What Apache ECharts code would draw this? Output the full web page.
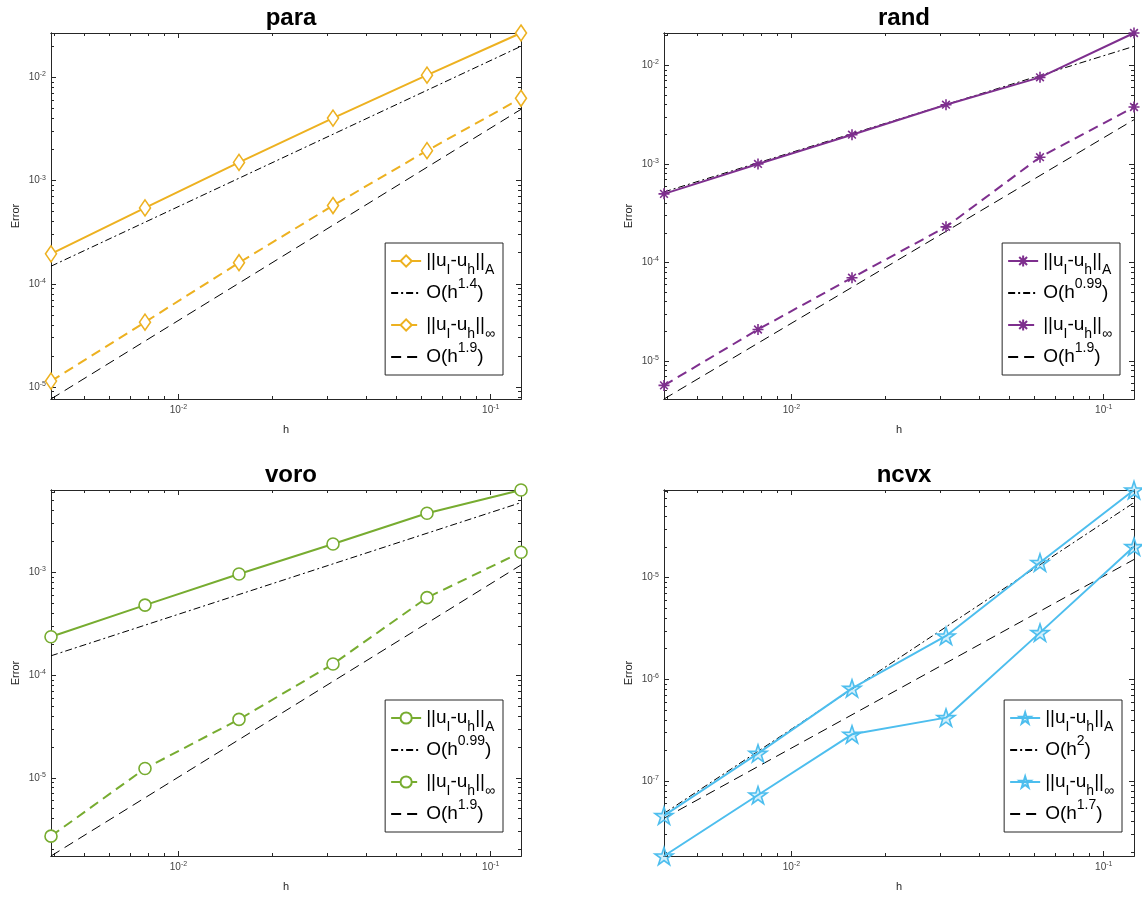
<!DOCTYPE html>
<html>
<head>
<meta charset="utf-8">
<script src="https://cdn.jsdelivr.net/npm/echarts@6/dist/echarts.min.js"></script>
<style>
  html, body { margin: 0; padding: 0; background: #fff; }
  #main { width: 1142px; height: 898px; }
</style>
</head>
<body>
<div id="main"></div>
<script>
// mesh sizes (h = 1/256 ... 1/8)
var hValues = [0.00390625, 0.0078125, 0.015625, 0.03125, 0.0625, 0.125];
var hEnds = [0.00390625, 0.125];

// para
var paraErrA   = [1.95e-4, 5.43e-4, 1.50e-3, 4.03e-3, 1.05e-2, 2.69e-2];
var paraErrInf = [1.14e-5, 4.25e-5, 1.60e-4, 5.73e-4, 1.95e-3, 6.27e-3];
var paraRefA   = [1.48e-4, 2.0e-2];
var paraRefInf = [7.65e-6, 4.9e-3];

// rand
var randErrA   = [4.97e-4, 1.0e-3, 1.98e-3, 3.99e-3, 7.56e-3, 2.13e-2];
var randErrInf = [5.66e-6, 2.09e-5, 7.0e-5, 2.30e-4, 1.17e-3, 3.78e-3];
var randRefA   = [5.2e-4, 1.56e-2];
var randRefInf = [4.12e-6, 2.81e-3];

// voro
var voroErrA   = [2.36e-4, 4.8e-4, 9.64e-4, 1.89e-3, 3.76e-3, 6.34e-3];
var voroErrInf = [2.70e-6, 1.23e-5, 3.70e-5, 1.28e-4, 5.67e-4, 1.57e-3];
var voroRefA   = [1.54e-4, 4.78e-3];
var voroRefInf = [1.73e-6, 1.18e-3];

// ncvx
var ncvxErrA   = [4.56e-8, 1.87e-7, 8.15e-7, 2.67e-6, 1.41e-5, 7.28e-5];
var ncvxErrInf = [1.83e-8, 7.28e-8, 2.88e-7, 4.2e-7, 2.88e-6, 2.02e-5];
var ncvxRefA   = [4.8e-8, 5.47e-5];
var ncvxRefInf = [4.3e-8, 1.51e-5];

var rateLabels = { para: ['1.4', '1.9'], rand: ['0.99', '1.9'], voro: ['0.99', '1.9'], ncvx: ['2', '1.7'] };

// marker shapes
var asterisk = 'path://M0,5L10,5M5,0L5,10M1.5,1.5L8.5,8.5M1.5,8.5L8.5,1.5';
var star = 'path://M0,-10L2.245,-3.09L9.51,-3.09L3.633,1.18L5.88,8.09L0,3.82L-5.88,8.09L-3.633,1.18L-9.51,-3.09L-2.245,-3.09Z';

var panels = [
  { key: 'para', color: '#EDB120', symbol: 'diamond', size: [11, 16], fill: '#fff', infType: [10, 6],
    errA: paraErrA, errInf: paraErrInf, refA: paraRefA, refInf: paraRefInf, left: 51, top: 33, legRight: 639 },
  { key: 'rand', color: '#7E2F8E', symbol: asterisk, size: 11, fill: 'rgba(0,0,0,0)', infType: [10, 6],
    errA: randErrA, errInf: randErrInf, refA: randRefA, refInf: randRefInf, left: 664, top: 33, legRight: 22 },
  { key: 'voro', color: '#77AC30', symbol: 'circle', size: 12, fill: '#fff', infType: [10, 6],
    errA: voroErrA, errInf: voroErrInf, refA: voroRefA, refInf: voroRefInf, left: 51, top: 490, legRight: 639 },
  { key: 'ncvx', color: '#4DBEEE', symbol: star, size: 18, fill: 'rgba(77,190,238,0.25)', infType: 'solid',
    errA: ncvxErrA, errInf: ncvxErrInf, refA: ncvxRefA, refInf: ncvxRefInf, left: 664, top: 490, legRight: 20 }
];

var W = 470, H = 366;
var axisColor = '#262626';
var font = 'Liberation Sans, Arial, Helvetica, sans-serif';

function decades(lo, hi) {
  var out = [];
  for (var e = Math.floor(Math.log10(lo)); e <= Math.ceil(Math.log10(hi)); e++) {
    var v = Math.pow(10, e);
    if (v >= lo && v <= hi) out.push(v);
  }
  return out;
}
function minors(lo, hi) {
  var out = [];
  for (var e = Math.floor(Math.log10(lo)); e <= Math.ceil(Math.log10(hi)); e++) {
    for (var m = 2; m <= 9; m++) {
      var v = m * Math.pow(10, e);
      if (v >= lo && v <= hi) out.push(v);
    }
  }
  return out;
}
function pow10Label(v) {
  return '{b|10}{s|' + Math.round(Math.log10(v)) + '}';
}
var tickRich = {
  b: { fontSize: 10, color: '#444', fontFamily: font },
  s: { fontSize: 7, color: '#444', fontFamily: font, verticalAlign: 'top', padding: [0, 0, 6, 0] }
};

function makeAxis(gi, pos, lo, hi, values, len, label, name) {
  var isX = pos === 'bottom' || pos === 'top';
  var ax = {
    type: 'log', logBase: 10, gridIndex: gi, position: pos, min: lo, max: hi,
    axisLine: { show: true, onZero: false, lineStyle: { color: axisColor, width: 1 } },
    axisTick: { show: true, inside: true, length: len, customValues: values, lineStyle: { color: axisColor, width: 1 } },
    axisLabel: { show: false },
    splitLine: { show: false },
    minorTick: { show: false }
  };
  if (label) {
    ax.axisLabel = { show: true, customValues: values, formatter: pow10Label, rich: tickRich, margin: 5 };
  }
  if (name) {
    ax.name = name;
    ax.nameLocation = 'middle';
    ax.nameGap = isX ? 25 : 30;
    ax.nameTextStyle = { fontSize: 11, color: axisColor, fontFamily: font };
  }
  return ax;
}

var option = { animation: false, backgroundColor: '#fff', title: [], grid: [], xAxis: [], yAxis: [], legend: [], series: [] };
var legendText = {};

panels.forEach(function (p, gi) {
  var all = p.errA.concat(p.errInf, p.refA, p.refInf);
  var yLo = Math.min.apply(null, all), yHi = Math.max.apply(null, all);
  var xLo = hValues[0], xHi = hValues[hValues.length - 1];

  option.title.push({
    text: p.key, left: p.left + W / 2, top: p.top - 32, textAlign: 'center',
    textStyle: { fontSize: 24, fontWeight: 'bold', color: '#000', fontFamily: font }
  });
  option.grid.push({ left: p.left, top: p.top, width: W, height: H, containLabel: false });

  var xBase = option.xAxis.length, yBase = option.yAxis.length;
  option.xAxis.push(makeAxis(gi, 'bottom', xLo, xHi, decades(xLo, xHi), 5, true, 'h'));
  option.xAxis.push(makeAxis(gi, 'bottom', xLo, xHi, minors(xLo, xHi), 3));
  option.xAxis.push(makeAxis(gi, 'top', xLo, xHi, decades(xLo, xHi), 5));
  option.xAxis.push(makeAxis(gi, 'top', xLo, xHi, minors(xLo, xHi), 3));
  option.yAxis.push(makeAxis(gi, 'left', yLo, yHi, decades(yLo, yHi), 5, true, 'Error'));
  option.yAxis.push(makeAxis(gi, 'left', yLo, yHi, minors(yLo, yHi), 3));
  option.yAxis.push(makeAxis(gi, 'right', yLo, yHi, decades(yLo, yHi), 5));
  option.yAxis.push(makeAxis(gi, 'right', yLo, yHi, minors(yLo, yHi), 3));

  var names = [p.key + '_A', p.key + '_refA', p.key + '_inf', p.key + '_refInf'];
  legendText[names[0]] = '||u{sub|I}-u{sub|h}||{sub|A}';
  legendText[names[1]] = 'O(h{sup|' + rateLabels[p.key][0] + '})';
  legendText[names[2]] = '||u{sub|I}-u{sub|h}||{sub|\u221e}';
  legendText[names[3]] = 'O(h{sup|' + rateLabels[p.key][1] + '})';

  function pairs(xs, ys) { return xs.map(function (x, i) { return [x, ys[i]]; }); }
  function dataSeries(name, ys, type) {
    return {
      name: name, type: 'line', xAxisIndex: xBase, yAxisIndex: yBase, data: pairs(hValues, ys),
      symbol: p.symbol, symbolSize: p.size, symbolKeepAspect: true,
      itemStyle: { color: p.fill, borderColor: p.color, borderWidth: 1.6 },
      lineStyle: { color: p.color, width: 2, type: type },
      z: 3
    };
  }
  function refSeries(name, ys, type) {
    return {
      name: name, type: 'line', xAxisIndex: xBase, yAxisIndex: yBase, data: pairs(hEnds, ys),
      symbol: 'none', showSymbol: false,
      itemStyle: { color: '#000' },
      lineStyle: { color: '#000', width: 1, type: type },
      z: 2
    };
  }
  option.series.push(dataSeries(names[0], p.errA, 'solid'));
  option.series.push(refSeries(names[1], p.refA, [7, 3, 2, 3]));
  option.series.push(dataSeries(names[2], p.errInf, p.infType));
  option.series.push(refSeries(names[3], p.refInf, [10, 6]));

  var hidden = { color: 'rgba(0,0,0,0)', borderWidth: 0, opacity: 0 };
  option.legend.push({
    data: [
      { name: names[0] },
      { name: names[1], itemStyle: hidden },
      { name: names[2] },
      { name: names[3], itemStyle: hidden }
    ],
    orient: 'vertical', right: p.legRight, top: p.top + 210,
    itemWidth: 30, itemHeight: 14, itemGap: 0, padding: [2, 8, 2, 5],
    backgroundColor: '#fff', borderColor: axisColor, borderWidth: 1, borderRadius: 0,
    selectedMode: false,
    formatter: function (n) { return legendText[n]; },
    textStyle: {
      fontSize: 19, color: '#000', fontFamily: font, lineHeight: 32,
      rich: {
        sub: { fontSize: 14, color: '#000', fontFamily: font, lineHeight: 14, verticalAlign: 'bottom' },
        sup: { fontSize: 14, color: '#000', fontFamily: font, lineHeight: 14, verticalAlign: 'top' }
      }
    }
  });
});

var chart = echarts.init(document.getElementById('main'), null, { renderer: 'canvas' });
chart.setOption(option);
</script>
</body>
</html>
